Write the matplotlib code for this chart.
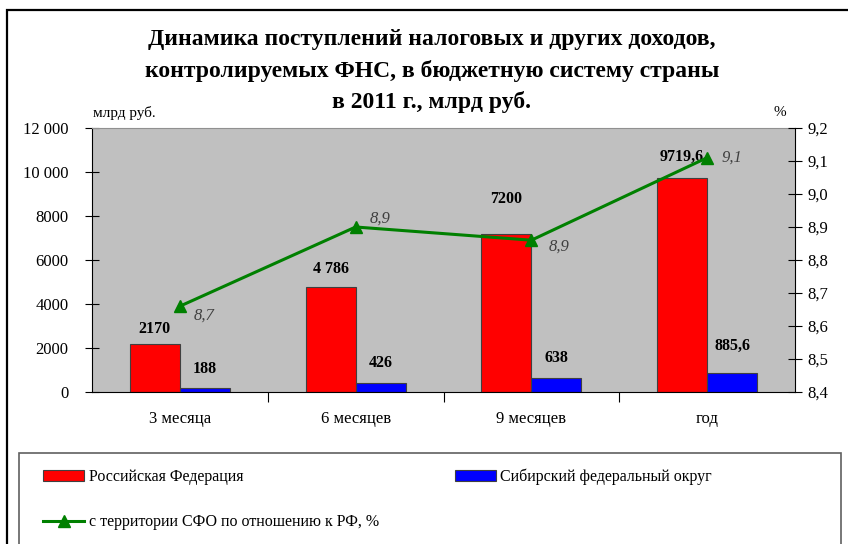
import numpy as np
import matplotlib.pyplot as plt
from matplotlib.patches import Rectangle
from matplotlib.lines import Line2D

plt.rcParams['font.family'] = ['Liberation Serif', 'DejaVu Serif']

periods = ["3 месяца", "6 месяцев", "9 месяцев", "год"]
rf = [2170, 4786, 7200, 9719.6]
sfo = [188, 426, 638, 885.6]
rf_labels = ["2170", "4 786", "7200", "9719,6"]
sfo_labels = ["188", "426", "638", "885,6"]
share = [8.66, 8.90, 8.86, 9.11]
share_labels = ["8,7", "8,9", "8,9", "9,1"]

W, H = 848, 544
fig = plt.figure(figsize=(W / 100, H / 100), dpi=100)

def fx(px):
    return px / W

def fy(py):
    return 1 - py / H

# plot area
ax = fig.add_axes([fx(92), fy(392), fx(795) - fx(92), fy(128) - fy(392)])
ax.set_facecolor("#c0c0c0")
x = np.arange(len(periods))
bw = 0.285
ax.bar(x - bw / 2, rf, bw, color="#ff0000", edgecolor="#404040", linewidth=0.8, zorder=2)
ax.bar(x + bw / 2, sfo, bw, color="#0000ff", edgecolor="#404040", linewidth=0.8, zorder=2)
ax.set_xlim(-0.5, 3.5)
ax.set_ylim(0, 12000)
ax.set_yticks(np.arange(0, 12001, 2000))
ax.set_yticklabels(["0", "2000", "4000", "6000", "8000", "10 000", "12 000"], fontsize=12)
ax.set_xticks([0.5, 1.5, 2.5])
ax.set_xticklabels([])
ax.set_xticks(x, minor=True)
ax.set_xticklabels(periods, minor=True, fontsize=12)
ax.tick_params(axis="x", which="minor", length=0, pad=14)
ax.tick_params(axis="x", which="major", direction="out", length=7, width=0.8)
ax.tick_params(axis="y", direction="inout", length=10, width=0.8, pad=12)
ax.spines["top"].set_color("#909090")
ax.spines["top"].set_linewidth(0.8)
ax.spines["right"].set_visible(False)

# label offsets (in data units) above each bar
rf_off = [350, 450, 1200, 600]
sfo_off = [500, 550, 550, 850]
for i in range(len(periods)):
    ax.text(x[i] - bw / 2, rf[i] + rf_off[i], rf_labels[i], ha="center", va="bottom",
            fontsize=11.5, fontweight="bold")
    ax.text(x[i] + bw / 2, sfo[i] + sfo_off[i], sfo_labels[i], ha="center", va="bottom",
            fontsize=11.5, fontweight="bold")

ax2 = ax.twinx()
ax2.plot(x, share, color="#008000", linewidth=2.2, marker="^", markersize=8, zorder=3)
ax2.set_ylim(8.4, 9.2)
ax2.set_yticks(np.arange(8.4, 9.21, 0.1))
ax2.set_yticklabels([f"{v:.1f}".replace(".", ",") for v in np.arange(8.4, 9.21, 0.1)], fontsize=12)
ax2.tick_params(axis="y", direction="inout", length=10, width=0.8, pad=4)
ax2.spines["top"].set_visible(False)
ax2.spines["left"].set_visible(False)
ax2.spines["bottom"].set_visible(False)

offsets = [(0.08, -0.03), (0.08, 0.025), (0.1, -0.02), (0.08, 0.0)]
for i in range(len(periods)):
    ax2.text(x[i] + offsets[i][0], share[i] + offsets[i][1], share_labels[i],
             ha="left", va="center", fontsize=12, style="italic", color="#404040")

# titles and axis captions
fig.text(fx(432), fy(71),
         "Динамика поступлений налоговых и других доходов,\n"
         "контролируемых ФНС, в бюджетную систему страны\n"
         "в 2011 г., млрд руб.",
         ha="center", va="center", fontsize=17, fontweight="bold", linespacing=1.56)
fig.text(fx(93), fy(113), "млрд руб.", ha="left", va="center", fontsize=11)
fig.text(fx(780), fy(113), "%", ha="center", va="center", fontsize=11)

# outer frame and legend frame
fig.patches.append(Rectangle((fx(7), fy(560)), fx(860) - fx(7), fy(10) - fy(560),
                             transform=fig.transFigure, fill=False, edgecolor="black",
                             linewidth=1.6, clip_on=False))
fig.patches.append(Rectangle((fx(19), fy(560)), fx(841) - fx(19), fy(453) - fy(560),
                             transform=fig.transFigure, fill=False, edgecolor="#606060",
                             linewidth=1.2, clip_on=False))

handles = [
    Rectangle((0, 0), 1, 1, facecolor="#ff0000", edgecolor="#404040", linewidth=0.8),
    Line2D([], [], color="#008000", linewidth=2.2, marker="^", markersize=8),
    Rectangle((0, 0), 1, 1, facecolor="#0000ff", edgecolor="#404040", linewidth=0.8),
]
labels = ["Российская Федерация", "с территории СФО по отношению к РФ, %",
          "Сибирский федеральный округ"]
fig.legend(handles, labels, loc="upper left", bbox_to_anchor=(fx(29), fy(454)),
           ncol=2, frameon=False, fontsize=11.5, handlelength=2.55, handleheight=0.65,
           handletextpad=0.3, labelspacing=1.85, columnspacing=4.75)

fig.savefig("out.png", dpi=100)
